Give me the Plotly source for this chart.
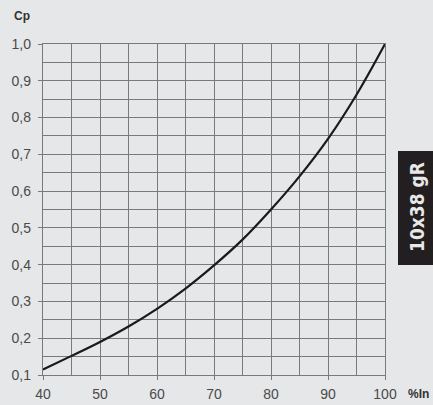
import plotly.graph_objects as go

x_pct = [40, 45, 50, 55, 60, 65, 70, 75, 80, 85, 90, 95, 100]
cp = [0.115, 0.152, 0.19, 0.232, 0.28, 0.335, 0.398, 0.468, 0.55, 0.64, 0.742, 0.862, 1.0]
x_ticks = [40, 50, 60, 70, 80, 90, 100]
y_ticks = [0.1, 0.2, 0.3, 0.4, 0.5, 0.6, 0.7, 0.8, 0.9, 1.0]
label_text = "10x38 gR"

bg = "#e6e7e9"
grid = "#7a7a7a"
tickfont = dict(family="Liberation Sans, Arial, sans-serif", size=14, color="#4a4a4a")

fig = go.Figure()
fig.add_trace(go.Scatter(x=x_pct, y=cp, mode="lines", line=dict(color="#1a1a1a", width=2.2, shape="spline"),
                         hoverinfo="skip", showlegend=False))

fig.update_layout(
    width=433, height=405,
    margin=dict(l=43, r=48, t=44, b=30),
    paper_bgcolor=bg, plot_bgcolor=bg,
    separators=",.",
    font=dict(family="Liberation Sans, Arial, sans-serif", size=12, color="#444"),
    xaxis=dict(range=[40, 100], tickvals=x_ticks, showgrid=True, gridcolor=grid, gridwidth=1.4,
               minor=dict(dtick=5, tick0=40, showgrid=True, gridcolor=grid, gridwidth=1.4),
               ticks="outside", ticklen=4, tickcolor=grid, showline=True, linecolor=grid, linewidth=1.4,
               mirror=True, zeroline=False, fixedrange=True, automargin=False, tickfont=tickfont,
               ticklabelstandoff=2),
    yaxis=dict(range=[0.1, 1.0], tickvals=y_ticks, tickformat=".1f", showgrid=True, gridcolor=grid, gridwidth=1.4,
               minor=dict(dtick=0.05, tick0=0.1, showgrid=True, gridcolor=grid, gridwidth=1.4),
               ticks="outside", ticklen=4, tickcolor=grid, showline=True, linecolor=grid, linewidth=1.4,
               mirror=True, zeroline=False, fixedrange=True, automargin=False, tickfont=tickfont,
               ticklabelstandoff=4),
)

fig.add_annotation(text="<b>Cp</b>", xref="paper", yref="paper", x=-0.091, y=1.085, xanchor="left", yanchor="middle",
                   showarrow=False, font=dict(size=12, color="#333"))
fig.add_annotation(text="<b>%In</b>", xref="paper", yref="paper", x=1.062, y=-0.057, xanchor="left", yanchor="middle",
                   showarrow=False, font=dict(size=12, color="#333"))
fig.add_shape(type="rect", xref="paper", yref="paper", x0=1.038, x1=1.2, y0=0.332, y1=0.677,
              fillcolor="#231f20", line=dict(width=0), layer="above")
fig.add_annotation(text="<b>" + label_text + "</b>", xref="paper", yref="paper", x=1.094, y=0.508,
                   xanchor="center", yanchor="middle", textangle=-90, showarrow=False,
                   font=dict(family="DejaVu Sans Condensed, sans-serif", size=19, color="#e8e8e8"))

fig.write_html("out.html", config={"displayModeBar": False},
               post_script="document.body.style.margin='0';document.body.style.overflow='hidden';")
